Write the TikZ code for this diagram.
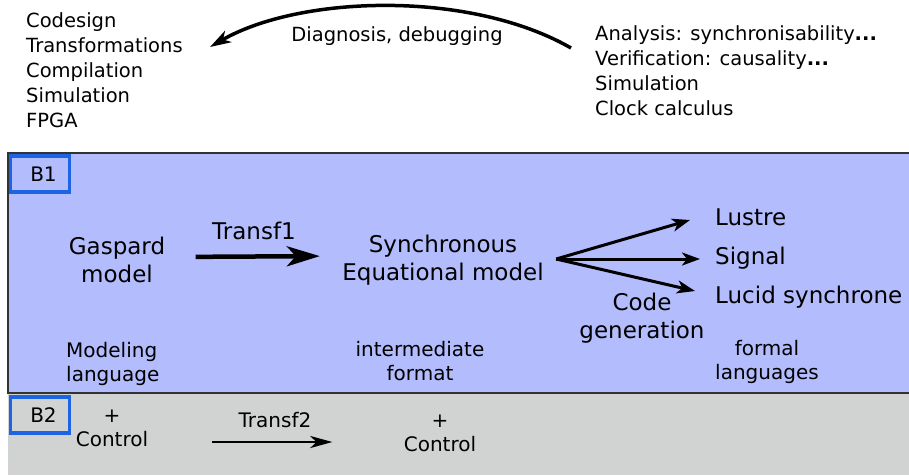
\documentclass[tikz,border=0pt]{standalone}
\usepackage{fontspec}
\setmainfont{DejaVu Sans}
\usetikzlibrary{shapes.geometric, arrows.meta}
\usetikzlibrary{calc}
\definecolor{bandblue}{RGB}{179,188,252}
\definecolor{bandgray}{RGB}{209,211,211}
\definecolor{tagblue}{RGB}{28,100,228}
\tikzstyle{band} = [rectangle, draw = black!80, line width=1.4pt, fill = bandblue]
\tikzstyle{tag} = [rectangle, draw = tagblue, line width=3.6pt, minimum width=59pt, minimum height=36pt, font=\fontsize{20}{22}\selectfont]
\tikzstyle{big} = [align=center, font=\fontsize{23}{28}\selectfont]
\tikzstyle{lang} = [anchor=west, inner sep=0pt, font=\fontsize{23}{28}\selectfont]
\tikzstyle{small} = [align=center, font=\fontsize{20}{24}\selectfont]
\tikzstyle{list} = [align=left, inner sep=0pt, font=\fontsize{19.5}{25}\selectfont]
\tikzstyle{arrow} = [-{Stealth[length=18pt,width=13pt,inset=5pt]}, line width=3pt]
\tikzstyle{bigarrow} = [-{Stealth[length=33pt,width=20pt,inset=9pt]}, line width=4.5pt]

\begin{document}
\begin{tikzpicture}[x=1pt,y=-1pt]
	\useasboundingbox (0,0) rectangle (909,475);
	%bandes
	\fill [bandgray] (8,393) rectangle (909,475);
	\draw [band] (8,153) rectangle (915,393);
	\node (B1) [tag] at (40,174) {\hspace*{7pt}B1};
	\node (B2) [tag] at (40,415) {\hspace*{7pt}B2};
	%haut
	\node (TL) [list,anchor=west] at (26,70) {Codesign\\Transformations\\Compilation\\Simulation\\FPGA};
	\node (TR) [list,anchor=west] at (595,71) {Analysis: synchronisability{\bfseries...}\\Verification: causality{\bfseries...}\\Simulation\\Clock calculus};
	\node (DD) [list] at (397,36) {Diagnosis, debugging};
	\coordinate (A0) at (571,48);
	\coordinate (A1) at (210,47);
	\draw [arrow,-{Stealth[length=21pt,width=13pt,inset=6pt]},line width=3.5pt](A0) .. controls (470,-10) and (300,-5) .. (A1);
	%B1
	\node (GM) [big] at (117,260) {Gaspard\\model};
	\node (SE) [big] at (443,260) {Synchronous\\Equational model};
	\node (T1) [big] at (254,231) {Transf1};
	\node (LU) [lang] at (715,217) {Lustre};
	\node (SI) [lang] at (715,258) {Signal};
	\node (LC) [lang] at (715,297) {Lucid synchrone};
	\node (CG) [big] at (642,318) {Code\\generation};
	\node (ML) [small,align=left,anchor=west,inner sep=0pt] at (66,364) {Modeling\\language};
	\node (IF) [small] at (420,361) {intermediate\\format};
	\node (FL) [small] at (767,362) {formal\\languages};
	\draw [bigarrow,shorten <=27pt,shorten >=19pt]([yshift=3pt]GM.east) -- ([yshift=4pt]SE.west);
	\coordinate (F) at ($(SE.east)+(9,-1)$);
	\draw [arrow](F) -- ($(LU.west)+(-25,3)$);
	\draw [arrow](F) -- ($(SI.west)+(-15,1)$);
	\draw [arrow](F) -- ($(LC.west)+(-20,-6)$);
	%B2
	\node (C1) [small] at (112,428) {+\\Control};
	\node (C2) [small] at (440,433) {+\\Control};
	\node (T2) [small] at (275,420) {Transf2};
	\draw [-{Stealth[length=22pt,width=12pt,inset=6pt]},line width=2.5pt]($(C1.east)+(60,14)$) -- ($(C2.west)+(-68,9)$);
\end{tikzpicture}
\end{document}
